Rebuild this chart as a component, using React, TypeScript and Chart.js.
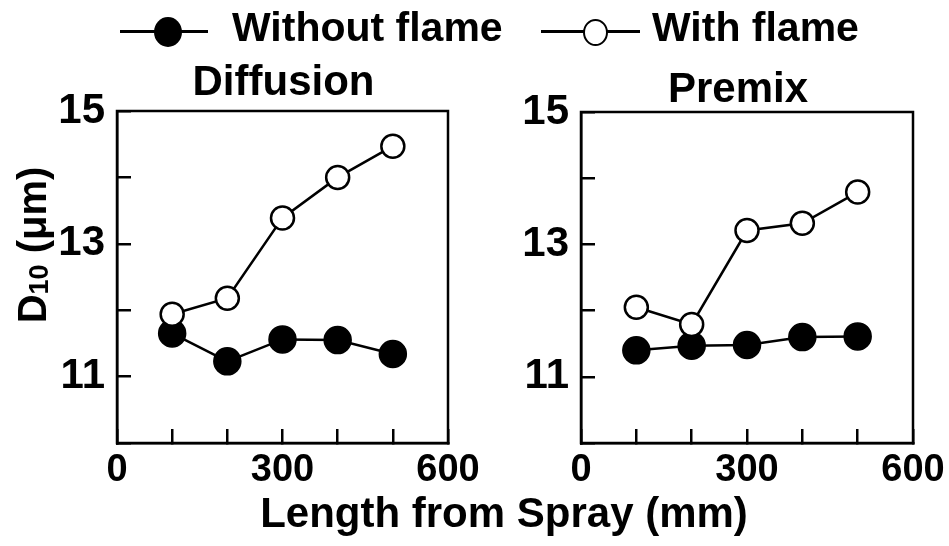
import React, { useEffect, useRef } from 'react';
import { Chart, registerables } from 'chart.js';

Chart.register(...registerables);

// ---- data ----
const lengths = [100, 200, 300, 400, 500];
const diffusionWithout = [11.65, 11.23, 11.56, 11.55, 11.34];
const diffusionWith = [11.94, 12.18, 13.39, 14.0, 14.47];
const premixWithout = [11.4, 11.47, 11.48, 11.6, 11.61];
const premixWith = [12.05, 11.79, 13.21, 13.32, 13.79];
const xTickLabels = [0, 300, 600];
const yTickLabels = [11, 13, 15];
const seriesNames = ['Without flame', 'With flame'];
const panelTitles = ['Diffusion', 'Premix'];
const xAxisTitle = 'Length from Spray (mm)';
const yAxisTitleParts = ['D', '10', ' (\u03bcm)'];

const FONT = '"Liberation Sans", Arial, Helvetica, sans-serif';

const decorPlugin = {
  id: 'panelDecor',
  beforeDatasetsDraw(chart: any) {
    const { ctx, chartArea: a } = chart;
    ctx.save();
    ctx.strokeStyle = '#000';
    ctx.lineWidth = 2.5;
    ctx.strokeRect(a.left, a.top, a.right - a.left, a.bottom - a.top);
    ctx.restore();
  },
  afterDraw(chart: any, _args: any, opts: any) {
    const { ctx, chartArea: a } = chart;
    ctx.save();
    ctx.fillStyle = '#000';
    ctx.font = `bold 42px ${FONT}`;
    ctx.textAlign = 'center';
    ctx.textBaseline = 'alphabetic';
    ctx.fillText(opts.title, (a.left + a.right) / 2 + opts.titleDx, opts.titleBaseline);
    if (opts.yTitle) {
      ctx.translate(opts.yTitleX, opts.yTitleY);
      ctx.rotate(-Math.PI / 2);
      const big = `bold 40px ${FONT}`;
      const small = `bold 27px ${FONT}`;
      ctx.font = big;
      const w1 = ctx.measureText(yAxisTitleParts[0]).width;
      const w3 = ctx.measureText(yAxisTitleParts[2]).width;
      ctx.font = small;
      const w2 = ctx.measureText(yAxisTitleParts[1]).width;
      let x = -(w1 + w2 + w3) / 2;
      ctx.textAlign = 'left';
      const base = 14;
      ctx.font = big;
      ctx.fillText(yAxisTitleParts[0], x, base);
      x += w1;
      ctx.font = small;
      ctx.fillText(yAxisTitleParts[1], x, base + 2);
      x += w2;
      ctx.font = big;
      ctx.fillText(yAxisTitleParts[2], x, base);
    }
    ctx.restore();
  },
};

function makeConfig(
  withoutVals: number[],
  withVals: number[],
  decor: any,
  yWidth: number,
  padRight: number,
  padTop: number
): any {
  return {
    type: 'line',
    data: {
      datasets: [
        {
          label: seriesNames[1],
          data: lengths.map((x, i) => ({ x, y: withVals[i] })),
          borderColor: '#000',
          borderWidth: 2.5,
          pointRadius: 11.5,
          pointHoverRadius: 11.5,
          pointBorderWidth: 2.5,
          pointBackgroundColor: '#fff',
          pointBorderColor: '#000',
          order: 0,
        },
        {
          label: seriesNames[0],
          data: lengths.map((x, i) => ({ x, y: withoutVals[i] })),
          borderColor: '#000',
          borderWidth: 2.5,
          pointRadius: 13.5,
          pointHoverRadius: 13.5,
          pointBorderWidth: 1.5,
          pointBackgroundColor: '#000',
          pointBorderColor: '#000',
          order: 1,
        },
      ],
    },
    options: {
      responsive: false,
      animation: false,
      events: [],
      layout: { padding: { left: 0, right: padRight, top: padTop, bottom: 43 } },
      plugins: {
        legend: { display: false },
        tooltip: { enabled: false },
        panelDecor: decor,
      },
      scales: {
        x: {
          type: 'linear',
          min: 0,
          max: 600,
          afterFit: (s: any) => {
            s.height = 60;
            s.paddingLeft = 0;
            s.paddingRight = 0;
          },
          border: { display: true, color: '#000', width: 2.5 },
          grid: {
            display: true,
            drawOnChartArea: false,
            drawTicks: true,
            tickLength: -14,
            color: '#000',
            lineWidth: 2.5,
          },
          ticks: {
            stepSize: 100,
            autoSkip: false,
            maxRotation: 0,
            padding: 23,
            color: '#000',
            font: { family: FONT, size: 38, weight: 'bold', lineHeight: 1 },
            callback: (v: any) => (xTickLabels.includes(Number(v)) ? String(v) : ''),
          },
        },
        y: {
          type: 'linear',
          min: 10,
          max: 15,
          afterFit: (s: any) => {
            s.width = yWidth;
            s.paddingTop = 0;
            s.paddingBottom = 0;
          },
          border: { display: true, color: '#000', width: 2.5 },
          grid: {
            display: true,
            drawOnChartArea: false,
            drawTicks: true,
            tickLength: -14,
            color: '#000',
            lineWidth: 2.5,
          },
          ticks: {
            stepSize: 1,
            autoSkip: false,
            padding: 26,
            color: '#000',
            font: { family: FONT, size: 42, weight: 'bold', lineHeight: 1 },
            callback: (v: any) => (yTickLabels.includes(Number(v)) ? String(v) : ''),
          },
        },
      },
    },
    plugins: [decorPlugin],
  };
}

function Panel(props: { left: number; width: number; config: any }) {
  const ref = useRef<HTMLCanvasElement | null>(null);
  useEffect(() => {
    if (!ref.current) return;
    const chart = new Chart(ref.current, props.config);
    return () => chart.destroy();
  }, []);
  return (
    <canvas
      ref={ref}
      width={props.width}
      height={546}
      style={{ position: 'absolute', left: props.left, top: 0, width: props.width, height: 546 }}
    />
  );
}

export default function App() {
  // left canvas: x 0..505, plot area 117..448
  const leftConfig = makeConfig(
    diffusionWithout,
    diffusionWith,
    { title: panelTitles[0], titleDx: 1, titleBaseline: 95, yTitle: true, yTitleX: 32, yTitleY: 245 },
    117,
    505 - 448,
    111
  );
  // right canvas: x 505..949, plot area 581..913
  const rightConfig = makeConfig(
    premixWithout,
    premixWith,
    { title: panelTitles[1], titleDx: -9, titleBaseline: 102, yTitle: false },
    581 - 505,
    949 - 913,
    112
  );
  const textStyle: React.CSSProperties = {
    position: 'absolute',
    font: `bold 41px ${FONT}`,
    lineHeight: '41px',
    whiteSpace: 'nowrap',
    color: '#000',
  };
  return (
    <div style={{ position: 'absolute', left: 0, top: 0, width: 949, height: 546, background: '#fff', overflow: 'hidden' }}>
      <Panel left={0} width={505} config={leftConfig} />
      <Panel left={505} width={444} config={rightConfig} />
      {/* legend */}
      <div style={{ position: 'absolute', left: 120, top: 30, width: 88, height: 3, background: '#000' }} />
      <div style={{ position: 'absolute', left: 154, top: 17, width: 28, height: 30, borderRadius: '50%', background: '#000' }} />
      <span style={{ ...textStyle, left: 232, top: 7 }}>{seriesNames[0]}</span>
      <div style={{ position: 'absolute', left: 541, top: 30, width: 99, height: 3, background: '#000' }} />
      <div style={{ position: 'absolute', left: 583, top: 19, width: 21, height: 23, borderRadius: '50%', background: '#fff', border: '2.5px solid #000' }} />
      <span style={{ ...textStyle, left: 652, top: 7 }}>{seriesNames[1]}</span>
      {/* shared x-axis title */}
      <div style={{ ...textStyle, font: `bold 42px ${FONT}`, lineHeight: '42px', left: 204, top: 492, width: 600, textAlign: 'center' }}>
        {xAxisTitle}
      </div>
    </div>
  );
}
